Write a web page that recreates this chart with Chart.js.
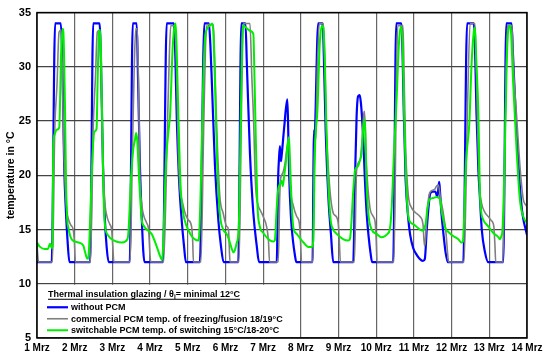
<!DOCTYPE html>
<html>
<head>
<meta charset="utf-8">
<script src="https://cdn.jsdelivr.net/npm/chart.js"></script>
<style>
  html, body { margin: 0; padding: 0; background: #fff; }
</style>
</head>
<body>
<canvas id="chart" width="550" height="358"></canvas>
<script>
// x values are days of March (1 = 1 Mrz 00:00)
const blueDays = [
    1.00, 1.39, 1.48, 1.63, 1.67, 1.72, 1.77, 1.81, 1.86,
    2.41, 2.49, 2.66, 2.70, 2.75, 2.80, 2.85, 2.90,
    3.46, 3.54, 3.645, 3.68, 3.73, 3.78, 3.82, 3.85,
    4.34, 4.44, 4.63, 4.67, 4.71, 4.77, 4.84, 4.90, 4.95,
    5.32, 5.44, 5.56, 5.60, 5.64, 5.72, 5.81, 5.88, 5.95,
    6.34, 6.42, 6.53, 6.57, 6.65, 6.74, 6.83, 6.89,
    7.36, 7.40, 7.42, 7.445, 7.47, 7.49, 7.56, 7.64, 7.66, 7.69, 7.74, 7.79, 7.84, 7.88,
    8.31, 8.34, 8.355, 8.365, 8.38, 8.46, 8.58, 8.61, 8.66, 8.73, 8.80, 8.86,
    9.39, 9.44, 9.48, 9.52, 9.56, 9.59, 9.62, 9.66, 9.70, 9.75, 9.80, 9.85, 9.89,
    10.45, 10.53, 10.665, 10.70, 10.73, 10.78, 10.85, 10.90, 10.98, 11.05, 11.15, 11.24, 11.29,
    11.34, 11.40, 11.43, 11.50, 11.57, 11.62, 11.65, 11.67, 11.69, 11.73, 11.78, 11.84, 11.90,
    12.31, 12.41, 12.59, 12.63, 12.66, 12.71, 12.75, 12.80, 12.88, 12.97,
    13.37, 13.45, 13.59, 13.63, 13.72, 13.81, 13.86, 13.90, 13.95, 14.00
];
const blueTemps = [
    12, 12, 34, 34, 31, 21, 16.5, 14, 12,
    12, 34, 34, 30, 21, 16, 13.3, 12,
    12, 34, 34, 29, 21, 16, 13, 12,
    12, 34, 34, 31, 25, 19.5, 15.8, 13.5, 12,
    12, 34, 34, 32, 28.5, 21, 15.9, 13.5, 12,
    12, 34, 34, 30, 22, 16.5, 13.5, 12,
    12, 20, 21.5, 22.7, 21.3, 21.8, 24.5, 27, 25, 20, 16, 14, 12.7, 12,
    12, 22.5, 24.2, 23, 24.5, 34, 34, 31, 24, 18, 14.5, 12,
    12, 20, 25.5, 27.3, 27.4, 26.8, 25.5, 23, 19.6, 16.3, 14.3, 12.8, 12,
    12, 34, 34, 31, 26, 19.6, 16, 14.5, 13.3, 12.8, 12.3, 12.1, 12.3,
    15, 17.5, 18.3, 18.5, 18.5, 18, 18.8, 19.4, 18.6, 16.5, 14.7, 12.9, 12,
    12, 34, 34, 30.5, 25.7, 20.5, 18, 15, 13, 12,
    12, 34, 34, 31, 24.2, 19, 17, 16, 15.2, 14.5
];

const grayDays = [
    1.00, 1.04, 1.41, 1.47, 1.53, 1.585, 1.64, 1.67, 1.70, 1.74, 1.79, 1.83, 1.90, 1.96, 1.99, 2.02,
    2.42, 2.49, 2.55, 2.60, 2.665, 2.70, 2.74, 2.79, 2.85, 2.93, 2.98, 3.01, 3.04,
    3.47, 3.53, 3.58, 3.62, 3.66, 3.69, 3.73, 3.78, 3.83, 3.91, 3.96, 4.00, 4.02,
    4.36, 4.46, 4.51, 4.55, 4.66, 4.70, 4.75, 4.80, 4.84, 4.93, 5.01, 5.10, 5.13, 5.15,
    5.35, 5.42, 5.47, 5.51, 5.68, 5.72, 5.77, 5.85, 5.94, 6.03, 6.08, 6.10, 6.12,
    6.36, 6.42, 6.46, 6.48, 6.65, 6.70, 6.74, 6.80, 6.87, 6.92, 7.00, 7.09, 7.14, 7.17,
    7.40, 7.44, 7.46, 7.52, 7.58, 7.67, 7.69, 7.72, 7.80, 7.89, 7.96, 7.99, 8.02,
    8.32, 8.36, 8.40, 8.44, 8.49, 8.60, 8.64, 8.68, 8.77, 8.86, 8.91, 8.99, 9.02, 9.05,
    9.42, 9.48, 9.57, 9.63, 9.67, 9.69, 9.74, 9.83, 9.92, 9.97, 10.00, 10.02,
    10.47, 10.54, 10.57, 10.71, 10.74, 10.78, 10.85, 10.94, 11.03, 11.16, 11.24, 11.28, 11.30,
    11.36, 11.42, 11.55, 11.60, 11.65, 11.70, 11.78, 11.85, 11.91, 11.93,
    12.33, 12.42, 12.49, 12.62, 12.66, 12.70, 12.74, 12.79, 12.88, 12.97, 13.06, 13.12, 13.15, 13.17,
    13.36, 13.43, 13.48, 13.60, 13.64, 13.72, 13.81, 13.90, 13.96, 14.00
];
const grayTemps = [
    13.6, 12, 12, 24, 28.3, 33.2, 33.4, 30, 24, 19.6, 16.8, 16, 15.4, 15, 14, 12,
    12, 24.3, 29, 33.2, 33.4, 29, 23, 18, 16.3, 15.5, 15, 13.5, 12,
    12, 22, 30, 33.5, 33.5, 29, 20, 17.3, 16.3, 15.6, 15, 12.5, 12,
    12, 24.5, 31, 33.8, 33.8, 30, 22, 18.5, 17.8, 16.5, 15.9, 15.3, 14, 12,
    12, 24, 31.8, 33.9, 33.9, 30, 24.2, 18.1, 16.5, 15.3, 15, 13.5, 12,
    12, 25, 33, 34, 34, 29, 25.7, 19, 17.2, 16.8, 16.2, 15.3, 14, 12,
    12, 18, 19.6, 20.2, 21.1, 23.2, 22, 19, 17.2, 16.2, 15.6, 14, 12,
    12, 22, 24, 30, 34, 34, 30, 24.2, 18.7, 16.5, 16.3, 15.6, 14, 12,
    12, 20.5, 21.4, 23.5, 25.7, 25.9, 21, 17.1, 16.2, 15.7, 14, 12,
    12, 30, 33.8, 33.8, 29, 22.5, 18.2, 17, 16.6, 16.2, 15.5, 13.5, 13.8,
    17, 18.4, 18.7, 19, 19.1, 18, 16.5, 14.7, 12.2, 12,
    12, 26, 34, 34, 29, 23, 19, 17.5, 16.6, 16.2, 15.8, 15.3, 13.5, 12,
    12, 26, 33.8, 33.8, 30, 25.7, 21, 17.8, 17.3, 17.1
];

const greenDays = [
    1.00, 1.08, 1.21, 1.29, 1.345, 1.39, 1.41, 1.43, 1.47, 1.52, 1.59, 1.64, 1.68, 1.70, 1.74, 1.77, 1.80, 1.83, 1.92, 2.10, 2.23, 2.27, 2.32, 2.36,
    2.39, 2.45, 2.52, 2.58, 2.61, 2.65, 2.68, 2.72, 2.76, 2.80, 2.88, 2.95, 3.10, 3.25, 3.40,
    3.43, 3.49, 3.55, 3.60, 3.63, 3.66, 3.71, 3.78, 3.84, 3.91, 4.04, 4.17, 4.26, 4.32,
    4.34, 4.42, 4.51, 4.53, 4.60, 4.66, 4.68, 4.71, 4.75, 4.81, 4.88, 4.95, 5.01, 5.10, 5.19, 5.28,
    5.30, 5.35, 5.41, 5.47, 5.59, 5.65, 5.68, 5.72, 5.78, 5.85, 5.94, 6.03, 6.10, 6.17, 6.21, 6.25, 6.30, 6.33,
    6.36, 6.40, 6.45, 6.48, 6.55, 6.66, 6.74, 6.77, 6.80, 6.85, 6.91, 7.00, 7.09, 7.18, 7.27, 7.31,
    7.36, 7.40, 7.45, 7.49, 7.52, 7.56, 7.60, 7.68, 7.70, 7.73, 7.77, 7.80, 7.89, 8.07, 8.20, 8.29, 8.33,
    8.36, 8.38, 8.44, 8.50, 8.56, 8.60, 8.64, 8.68, 8.73, 8.79, 8.86, 8.95, 9.13, 9.26, 9.30,
    9.33, 9.38, 9.44, 9.51, 9.56, 9.61, 9.66, 9.69, 9.71, 9.74, 9.79, 9.88, 10.01, 10.14, 10.23, 10.30,
    10.36, 10.41, 10.47, 10.54, 10.60, 10.63, 10.665, 10.70, 10.74, 10.81, 10.87, 10.98, 11.16, 11.25, 11.29,
    11.31, 11.36, 11.42, 11.50, 11.60, 11.69, 11.73, 11.78, 11.85, 11.91, 12.04, 12.18, 12.26, 12.30,
    12.33, 12.38, 12.47, 12.53, 12.59, 12.62, 12.65, 12.71, 12.75, 12.79, 12.84, 12.97, 13.10, 13.24, 13.28, 13.32,
    13.35, 13.41, 13.46, 13.50, 13.55, 13.58, 13.63, 13.72, 13.81, 13.90, 14.00
];
const greenTemps = [
    13.8, 13.4, 13.2, 13.2, 13.7, 13.3, 13.4, 22.5, 23.8, 24.2, 24.4, 31.3, 33.5, 33.2, 26.8, 19.5, 16, 15.2, 14.1, 13.8, 13.5, 13, 12.4, 12.3,
    14, 20, 24, 24.3, 29, 33.3, 33.4, 27, 19, 15.5, 14.5, 14.2, 13.9, 13.8, 14.1,
    15, 19.5, 22.3, 23.3, 23.9, 23.2, 19.6, 15.9, 15.3, 15, 14.6, 13.5, 12.6, 12.2,
    13, 21.1, 24.8, 25.5, 31.8, 33.9, 34, 31, 25.7, 19, 16.5, 15.5, 15, 14.4, 14.1, 14,
    14.3, 19.6, 28.7, 33, 33.8, 34, 33, 28.7, 21.1, 16.5, 15, 14.6, 14, 13.2, 12.9, 13.1, 13.8, 14.2,
    16, 24, 33, 33.8, 33.6, 33.3, 33, 29, 24.2, 17.2, 15.3, 14.7, 14.3, 14, 13.9, 14,
    17, 18.7, 19.2, 19.5, 19, 20, 21.1, 23.5, 22.5, 19.6, 16.5, 15.2, 14.6, 13.8, 13.4, 13.4, 13.9,
    20, 23, 26, 32, 33.8, 33.5, 30, 24, 19, 15.9, 15, 14.6, 14.1, 14, 14.1,
    15, 18, 20.5, 20.8, 21.3, 22, 24.5, 25.2, 24, 19.6, 16.5, 15, 14.6, 14.3, 14.4, 14.6,
    15, 17, 22, 27, 32, 33.3, 33.7, 32, 25.7, 18.1, 15.9, 15.5, 15, 14.9, 15.3,
    15.5, 17, 17.8, 17.9, 18, 17.8, 16.8, 15.9, 15, 14.8, 14.4, 14.1, 13.8, 13.9,
    16, 21.1, 24.8, 30.3, 33.3, 33.6, 31, 25.7, 18.5, 16.5, 15.9, 15.3, 14.7, 14.3, 14.1, 14.4,
    15, 22, 30, 33.3, 33.8, 33, 28.7, 22.6, 17.8, 16.2, 15.6
];

const seriesLabels = [
    'without PCM',
    'commercial PCM temp. of freezing/fusion 18/19°C',
    'switchable PCM temp. of switching 15°C/18-20°C'
];
const legendTitle = ['Thermal insulation glazing / θ', 'i', '= minimal 12°C'];
const dayTicks = [1, 2, 3, 4, 5, 6, 7, 8, 9, 10, 11, 12, 13, 14];
const tempTicks = [5, 10, 15, 20, 25, 30, 35];

const FONT = '"Liberation Sans", Arial, sans-serif';

function toPoints(days, temps) {
    return days.map((d, i) => ({ x: d, y: temps[i] }));
}

// legend box drawn inside the plot + black frame
const overlay = {
    id: 'overlay',
    afterDraw(chart) {
        const ctx = chart.ctx;
        const a = chart.chartArea;
        const y10 = chart.scales.y.getPixelForValue(10);
        ctx.save();
        ctx.fillStyle = '#fff';
        ctx.fillRect(a.left + 1, y10 + 1, 253, a.bottom - y10 - 2);

        ctx.fillStyle = '#000';
        ctx.textBaseline = 'alphabetic';
        ctx.font = 'bold 9px ' + FONT;
        let x = a.left + 11;
        const ty = y10 + 13;
        ctx.fillText(legendTitle[0], x, ty);
        x += ctx.measureText(legendTitle[0]).width;
        ctx.font = 'bold 6.5px ' + FONT;
        ctx.fillText(legendTitle[1], x, ty + 2);
        x += ctx.measureText(legendTitle[1]).width;
        ctx.font = 'bold 9px ' + FONT;
        ctx.fillText(legendTitle[2], x, ty);
        x += ctx.measureText(legendTitle[2]).width;
        ctx.strokeStyle = '#000';
        ctx.lineWidth = 1;
        ctx.beginPath();
        ctx.moveTo(a.left + 11, ty + 2.5);
        ctx.lineTo(x, ty + 2.5);
        ctx.stroke();

        ctx.textBaseline = 'middle';
        chart.data.datasets.forEach((ds, i) => {
            const ly = y10 + 23.5 + i * 11.5;
            ctx.strokeStyle = ds.borderColor;
            ctx.lineWidth = ds.borderWidth;
            ctx.beginPath();
            ctx.moveTo(a.left + 10, ly);
            ctx.lineTo(a.left + 31, ly);
            ctx.stroke();
            ctx.fillStyle = '#000';
            ctx.fillText(ds.label, a.left + 34, ly + 0.5);
        });

        ctx.strokeStyle = '#000';
        ctx.lineWidth = 1.5;
        ctx.strokeRect(a.left, a.top, a.right - a.left, a.bottom - a.top);
        ctx.restore();
    }
};

new Chart(document.getElementById('chart'), {
    type: 'line',
    data: {
        datasets: [
            { label: seriesLabels[0], data: toPoints(blueDays, blueTemps), borderColor: '#0000ff', borderWidth: 2.2, order: 3 },
            { label: seriesLabels[1], data: toPoints(grayDays, grayTemps), borderColor: '#808080', borderWidth: 1.6, order: 2 },
            { label: seriesLabels[2], data: toPoints(greenDays, greenTemps), borderColor: '#00ee00', borderWidth: 2, order: 1 }
        ]
    },
    options: {
        responsive: false,
        animation: false,
        events: [],
        parsing: false,
        elements: {
            point: { radius: 0 },
            line: { cubicInterpolationMode: 'monotone', fill: false }
        },
        layout: { padding: { top: 10, right: 23, left: 0, bottom: 0 } },
        plugins: {
            legend: { display: false },
            tooltip: { enabled: false }
        },
        scales: {
            x: {
                type: 'linear',
                min: dayTicks[0],
                max: dayTicks[dayTicks.length - 1],
                afterBuildTicks: scale => { scale.ticks = dayTicks.map(v => ({ value: v })); },
                afterFit: scale => { scale.height = 20; },
                grid: { color: '#666', lineWidth: 1.2, drawTicks: false },
                border: { display: false },
                ticks: {
                    autoSkip: false,
                    maxRotation: 0,
                    padding: 4,
                    color: '#000',
                    font: { family: FONT, size: 10, weight: 'bold' },
                    callback: v => v + ' Mrz'
                }
            },
            y: {
                min: tempTicks[0],
                max: tempTicks[tempTicks.length - 1],
                afterBuildTicks: scale => { scale.ticks = tempTicks.map(v => ({ value: v })); },
                afterFit: scale => { scale.width = 37; },
                grid: { color: '#444', lineWidth: 1.2, drawTicks: false },
                border: { display: false },
                ticks: {
                    padding: 6,
                    color: '#000',
                    font: { family: FONT, size: 11, weight: 'bold' }
                },
                title: {
                    display: true,
                    text: 'temperature in °C',
                    color: '#000',
                    padding: { top: 5, bottom: 0 },
                    font: { family: FONT, size: 10.5, weight: 'bold' }
                }
            }
        }
    },
    plugins: [overlay]
});
</script>
</body>
</html>
